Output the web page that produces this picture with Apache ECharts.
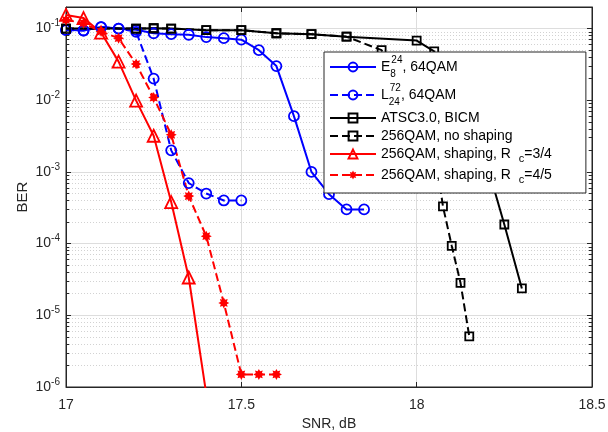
<!DOCTYPE html>
<html><head><meta charset="utf-8">
<script src="https://cdn.jsdelivr.net/npm/echarts@6/dist/echarts.min.js"></script>
<style>html,body{margin:0;padding:0;background:#fff}#c{width:608px;height:432px}</style>
</head><body><div id="c"></div>
<script>
// ---- data ----
const seriesNames = ['E8', 'L24', 'ATSC', 'NoShaping', 'R34', 'R45'];
const xE8  = [17.0,17.05,17.1,17.15,17.2,17.25,17.3,17.35,17.4,17.45,17.5,17.55,17.6,17.65,17.7,17.75,17.8,17.85];
const yE8  = [0.096,0.094,0.105,0.1,0.096,0.086,0.0835,0.082,0.076,0.0735,0.07,0.05,0.03,0.006,0.001,0.00049,0.0003,0.0003];
const xL24 = [17.0,17.05,17.1,17.15,17.2,17.25,17.3,17.35,17.4,17.45,17.5];
const yL24 = [0.095,0.094,0.105,0.1,0.09,0.02,0.002,0.0007,0.0005,0.0004,0.0004];
const xATSC = [17.0,17.2,17.25,17.3,17.4,17.5,17.6,17.7,17.8,18.0,18.05,18.2,18.25,18.3];
const yATSC = [0.1,0.1,0.101,0.1,0.095,0.095,0.086,0.0835,0.077,0.068,0.048,0.0013,0.000185,0.0000237];
const xNoShp = [17.0,17.2,17.25,17.3,17.4,17.5,17.6,17.7,17.8,17.9,18.05,18.075,18.1,18.125,18.15];
const yNoShp = [0.1,0.1,0.101,0.1,0.095,0.095,0.086,0.0835,0.077,0.05,0.0023,0.00033,0.000093,0.0000284,0.0000051];
const xR34 = [17.0,17.05,17.1,17.15,17.2,17.25,17.3,17.35,17.4];
const yR34 = [0.155,0.14,0.088,0.0346,0.0099,0.0032,0.00038,0.0000337,0.0000008];
const xR45 = [17.0,17.05,17.1,17.15,17.2,17.25,17.3,17.35,17.4,17.45,17.5,17.55,17.6];
const yR45 = [0.132,0.119,0.091,0.0735,0.032,0.0109,0.0033,0.00046,0.000127,0.0000149,0.0000015,0.0000015,0.0000015];
const xTicks = [17, 17.5, 18, 18.5];
const yDecades = [1e-6, 1e-5, 1e-4, 1e-3, 1e-2, 1e-1];
const minorMult = [2,3,4,5,6,7,8,9];
const legendLabels = {
  E8: '{T|E}{sub|8}{sup|24}{T|, 64QAM}',
  L24: '{T|L}{sub|24}{sup|72}{T|, 64QAM}',
  ATSC: '{t|ATSC3.0, BICM}',
  NoShaping: '{t|256QAM, no shaping}',
  R34: '{m|256QAM, shaping, R  }{s2|c}{m|=3/4}',
  R45: '{m|256QAM, shaping, R  }{s2|c}{m|=4/5}'
};

// ---- styling ----
const font = '"Liberation Sans", Arial, Helvetica, sans-serif';
const ink = '#262626';
const BLUE = '#0000ff', RED = '#ff0000', BLACK = '#000000';
const pairs = (xs, ys) => xs.map((x, i) => [x, ys[i]]);
function starPath(n, rOut, rIn) {
  let d = '';
  for (let i = 0; i < 2 * n; i++) {
    const r = i % 2 ? rIn : rOut;
    const a = Math.PI * i / n - Math.PI / 2;
    d += (i ? 'L' : 'M') + (r * Math.cos(a) + 10).toFixed(2) + ' ' + (r * Math.sin(a) + 10).toFixed(2) + ' ';
  }
  return 'path://' + d + 'Z';
}
const clear = 'rgba(0,0,0,0)';
function mkSeries(name, xs, ys, color, symbol, size, dashed, filled) {
  return {
    name, type: 'line', data: pairs(xs, ys), symbol, symbolSize: size,
    lineStyle: { color, width: 2, type: dashed ? [8, 4] : 'solid' },
    itemStyle: { color: filled ? color : clear, borderColor: color, borderWidth: filled ? 0 : 1.8 },
    emphasis: { disabled: true }, z: 3
  };
}
const minorVals = [];
yDecades.slice(0, 5).forEach(d => minorMult.forEach(m => minorVals.push(m * d)));
const minorGrid = minorVals.map(v => ({ coords: [[17, v], [18.5, v]] }));
const minorTicks = [];
minorVals.forEach(v => {
  minorTicks.push({ coords: [[17, v], [17.009, v]] });
  minorTicks.push({ coords: [[18.491, v], [18.5, v]] });
});

const chart = echarts.init(document.getElementById('c'));
chart.setOption({
  backgroundColor: '#fff',
  animation: false,
  textStyle: { fontFamily: font },
  grid: { left: 66, right: 16, top: 7, bottom: 45, show: true, borderColor: ink, borderWidth: 1,
    backgroundColor: clear, containLabel: false, outerBoundsMode: 'none' },
  legend: {
    data: seriesNames, orient: 'vertical', left: 324, top: 52,
    itemWidth: 46, itemHeight: 11, itemGap: 4,
    padding: [3, 34, 8, 5],
    backgroundColor: '#fff', borderColor: ink, borderWidth: 1, borderRadius: 0,
    formatter: n => legendLabels[n],
    textStyle: {
      fontFamily: font, fontSize: 14, color: '#000',
      rich: {
        T: { fontSize: 14, lineHeight: 24, fontFamily: font, color: '#000' },
        t: { fontSize: 14, lineHeight: 18, fontFamily: font, color: '#000' },
        m: { fontSize: 14, lineHeight: 20, fontFamily: font, color: '#000' },
        sup: { fontSize: 10, lineHeight: 10, verticalAlign: 'top', fontFamily: font, color: '#000' },
        sub: { fontSize: 10, lineHeight: 10, verticalAlign: 'bottom', width: 1, fontFamily: font, color: '#000' },
        s2: { fontSize: 11, lineHeight: 8, verticalAlign: 'bottom', fontFamily: font, color: '#000' }
      }
    }
  },
  xAxis: [{
    type: 'value', min: 17, max: 18.5, interval: 0.5,
    name: 'SNR, dB', nameLocation: 'middle', nameGap: 30, nameMoveOverlap: false,
    nameTextStyle: { fontSize: 14, color: ink, fontFamily: font },
    axisLine: { show: true, lineStyle: { color: ink } },
    axisTick: { inside: true, length: 5, lineStyle: { color: ink } },
    axisLabel: { fontSize: 14, color: ink, margin: 11, fontFamily: font,
      formatter: v => xTicks.includes(+v.toFixed(2)) ? String(v) : '' },
    splitLine: { show: true, lineStyle: { color: '#dddddd', width: 1 } }
  }, {
    type: 'value', position: 'top', min: 17, max: 18.5, interval: 0.5,
    axisLine: { show: true, lineStyle: { color: ink } },
    axisTick: { inside: true, length: 5, lineStyle: { color: ink } },
    axisLabel: { show: false }, splitLine: { show: false }
  }],
  yAxis: [{
    type: 'log', logBase: 10, min: 1e-6, max: 0.2,
    name: 'BER', nameLocation: 'middle', nameGap: 36, nameMoveOverlap: false,
    nameTextStyle: { fontSize: 15, color: ink, fontFamily: font },
    axisLine: { show: true, lineStyle: { color: ink } },
    axisTick: { inside: true, length: 5, lineStyle: { color: ink } },
    axisLabel: {
      margin: 6, color: ink, showMaxLabel: false,
      formatter: v => {
        const e = Math.round(Math.log10(v));
        if (Math.abs(v - Math.pow(10, e)) / v > 1e-6) return '';
        return '{b|10}{e|' + e + '}';
      },
      rich: {
        b: { fontSize: 14, lineHeight: 20, color: ink, fontFamily: font },
        e: { fontSize: 10, lineHeight: 10, verticalAlign: 'top', color: ink, fontFamily: font }
      }
    },
    splitLine: { show: true, lineStyle: { color: '#dddddd', width: 1 } }
  }, {
    type: 'log', logBase: 10, min: 1e-6, max: 0.2, position: 'right',
    axisLine: { show: true, lineStyle: { color: ink } },
    axisTick: { inside: true, length: 5, lineStyle: { color: ink } },
    axisLabel: { show: false }, splitLine: { show: false }
  }],
  series: [
    {
      name: 'minor-grid', type: 'lines', coordinateSystem: 'cartesian2d', silent: true, z: 1,
      xAxisIndex: 0, yAxisIndex: 0,
      lineStyle: { color: '#d2d2d2', type: [1, 2], width: 1, opacity: 1 },
      data: minorGrid
    },
    {
      name: 'minor-ticks', type: 'lines', coordinateSystem: 'cartesian2d', silent: true, z: 4,
      xAxisIndex: 0, yAxisIndex: 0,
      lineStyle: { color: ink, type: 'solid', width: 1, opacity: 1 },
      data: minorTicks
    },
    mkSeries('E8', xE8, yE8, BLUE, 'circle', 10, false),
    mkSeries('L24', xL24, yL24, BLUE, 'circle', 10, true),
    mkSeries('ATSC', xATSC, yATSC, BLACK, 'rect', 8, false),
    mkSeries('NoShaping', xNoShp, yNoShp, BLACK, 'rect', 8, true),
    mkSeries('R34', xR34, yR34, RED, 'triangle', 12, false),
    mkSeries('R45', xR45, yR45, RED, starPath(8, 10, 6), 11, true, true)
  ]
});
</script></body></html>
